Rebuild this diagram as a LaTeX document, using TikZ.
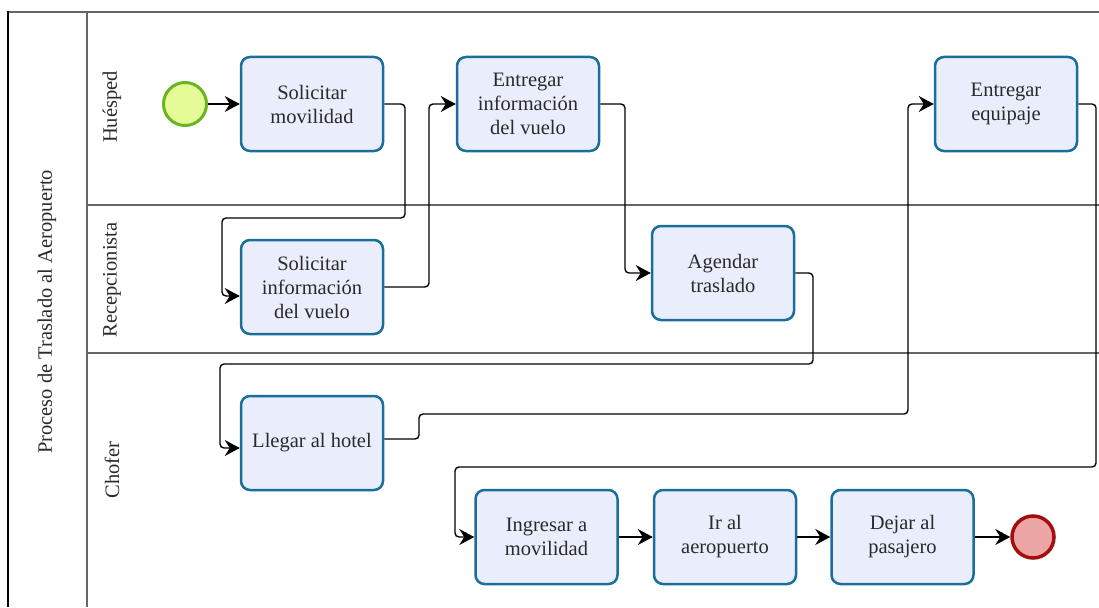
\documentclass[tikz,border=0pt]{standalone}
\usepackage{fontspec}
\setmainfont{Liberation Serif}
\usetikzlibrary{arrows.meta}
\definecolor{taskfill}{HTML}{E9EDFC}
\definecolor{taskline}{HTML}{1A6E9A}
\definecolor{startfill}{HTML}{E4FB97}
\definecolor{startline}{HTML}{6AB521}
\definecolor{endfill}{HTML}{EBA5A5}
\definecolor{endline}{HTML}{A30F0F}
\definecolor{lanegray}{HTML}{666666}
\definecolor{txt}{HTML}{2A2A2A}
\begin{document}
\begin{tikzpicture}[x=1pt,y=-1pt,
  task/.style={draw=taskline, line width=2.5pt, fill=taskfill, rounded corners=9pt,
    minimum width=142pt, minimum height=94pt, inner sep=0pt, align=center,
    text=txt, font=\fontsize{20.5}{24}\selectfont},
  startev/.style={circle, draw=startline, line width=3pt, fill=startfill, minimum size=43pt, inner sep=0pt},
  endev/.style={circle, draw=endline, line width=3.5pt, fill=endfill, minimum size=42pt, inner sep=0pt},
  flow/.style={draw=black, line width=1.4pt, rounded corners=4pt,
    -{Stealth[length=15pt,width=16pt,inset=5pt]}},
  lane/.style={draw=lanegray, line width=1.3pt},
  lanelabel/.style={rotate=90, text=txt, font=\fontsize{20.5}{24}\selectfont}]
\useasboundingbox (0,0) rectangle (1099,607);
\fill[white] (0,0) rectangle (1099,607);

% pool and lanes
\draw[lane] (8,12) -- (1099,12);
\draw[draw=black, line width=2pt] (8,11) -- (8,607);
\draw[lane] (87,12) -- (87,607);
\draw[lane] (87,205) -- (1099,205);
\draw[lane] (87,353) -- (1099,353);

\node[lanelabel] (pool) at (47,312) {Proceso de Traslado al Aeropuerto};
\node[lanelabel] (l1) at (112,107) {Huésped};
\node[lanelabel] (l2) at (112,280) {Recepcionista};
\node[lanelabel] (l3) at (112,470) {Chofer};

% events and tasks
\node[startev] (st) at (185,104) {};
\node[task] (sm) at (312,104) {Solicitar\\movilidad};
\node[task] (ei) at (528,104) {Entregar\\información\\del vuelo};
\node[task] (ee) at (1006,104) {Entregar\\equipaje};
\node[task] (si) at (312,287) {Solicitar\\información\\del vuelo};
\node[task] (at) at (723,273) {Agendar\\traslado};
\node[task] (lh) at (312,443) {Llegar al hotel};
\node[task] (im) at (546.5,537) {Ingresar a\\movilidad};
\node[task] (ia) at (725,537) {Ir al\\aeropuerto};
\node[task] (dp) at (902.5,537) {Dejar al\\pasajero};
\node[endev] (en) at (1033,537) {};

% sequence flows
\draw[flow] (st) -- (sm);
\draw[flow] (sm.east) -- (405,104) -- (405,218) -- (222,218) -- (222,296) -- ([yshift=-9pt]si.west);
\draw[flow] (si.east) -- (429,287) -- (429,104) -- (ei.west);
\draw[flow] (ei.east) -- (625,104) -- (625,273) -- (at.west);
\draw[flow] (at.east) -- (813,273) -- (813,364) -- (220,364) -- (220,448) -- ([yshift=-5pt]lh.west);
\draw[flow] ([yshift=4pt]lh.east) -- (419,439) -- (419,414) -- (908,414) -- (908,104) -- (ee.west);
\draw[flow] (ee.east) -- (1096,104) -- (1096,467) -- (455,467) -- (455,537) -- (im.west);
\draw[flow] (im) -- (ia);
\draw[flow] (ia) -- (dp);
\draw[flow] (dp) -- (en);
\end{tikzpicture}
\end{document}
